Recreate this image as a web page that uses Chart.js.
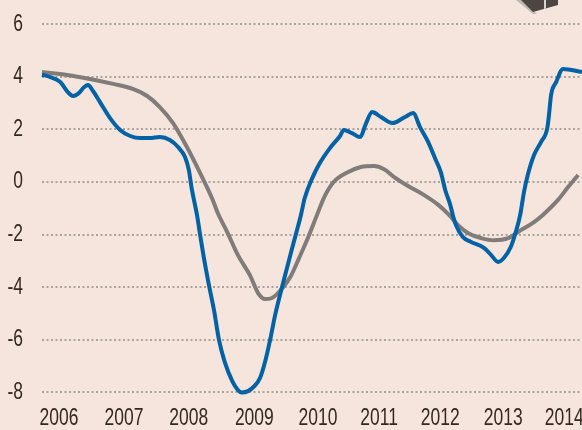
<!DOCTYPE html>
<html>
<head>
<meta charset="utf-8">
<style>
  html, body { margin: 0; padding: 0; background: #f5e5dc; overflow: hidden; }
  #wrap { position: relative; width: 582px; height: 430px; }
  #corner { position: absolute; left: 510px; top: 0; }
</style>
</head>
<body>
<div id="wrap">
  <canvas id="chart" width="582" height="430"></canvas>
  <!-- corner of the illustration that is cut off at the top of the picture -->
  <svg id="corner" width="60" height="18">
    <polygon points="6,0 23,14 27,14 12,0" fill="#bdbab6"/>
    <polygon points="11,0 23,12 48,5 48,0" fill="#4d4640"/>
    <polygon points="34,0 34,9 36,8.5 36,0" fill="#d8d4cf"/>
  </svg>
</div>
<script src="https://cdn.jsdelivr.net/npm/chart.js@4"></script>
<script>
// Year labels sit at uneven spots along the axis, same as the original
const xTickValues = [2006.27, 2007.30, 2008.33, 2009.37, 2010.38, 2011.35, 2012.32, 2013.32, 2014.29];
const xTickLabels = ['2006', '2007', '2008', '2009', '2010', '2011', '2012', '2013', '2014'];
const yTickValues = [-8, -6, -4, -2, 0, 2, 4, 6];

const blueX = [
    2006.00, 2006.13, 2006.29, 2006.41, 2006.49, 2006.57, 2006.67, 2006.73, 2006.81, 2006.92,
    2007.08, 2007.24, 2007.40, 2007.56, 2007.71, 2007.87, 2008.03, 2008.16, 2008.27, 2008.33,
    2008.38, 2008.46, 2008.51, 2008.57, 2008.65, 2008.73, 2008.81, 2008.90, 2009.02, 2009.11,
    2009.17, 2009.27, 2009.37, 2009.46, 2009.54, 2009.62, 2009.70, 2009.81, 2009.95, 2010.03,
    2010.11, 2010.17, 2010.29, 2010.41, 2010.57, 2010.73, 2010.79, 2010.92, 2011.05, 2011.14,
    2011.24, 2011.38, 2011.56, 2011.76, 2011.89, 2012.00, 2012.13, 2012.25, 2012.33, 2012.40,
    2012.48, 2012.52, 2012.57, 2012.68, 2012.81, 2013.02, 2013.13, 2013.24, 2013.33, 2013.44,
    2013.52, 2013.59, 2013.65, 2013.71, 2013.81, 2013.92, 2014.02, 2014.05, 2014.08, 2014.16,
    2014.27, 2014.57
];
const blueY = [
    4.08, 3.99, 3.80, 3.42, 3.27, 3.35, 3.61, 3.69, 3.46, 3.04,
    2.43, 1.98, 1.75, 1.67, 1.67, 1.71, 1.60, 1.33, 0.95, 0.46,
    -0.30, -1.25, -2.02, -2.89, -3.92, -4.87, -6.01, -6.84, -7.57, -7.91,
    -8.00, -7.95, -7.76, -7.45, -6.84, -6.01, -5.06, -3.99, -2.70, -1.98,
    -1.25, -0.61, 0.15, 0.72, 1.29, 1.75, 1.98, 1.86, 1.71, 2.21,
    2.66, 2.47, 2.24, 2.47, 2.62, 2.09, 1.52, 0.84, 0.38, -0.30,
    -0.87, -1.25, -1.63, -2.09, -2.28, -2.51, -2.78, -3.04, -2.89, -2.47,
    -1.90, -1.25, -0.38, 0.27, 1.03, 1.52, 2.05, 2.62, 3.31, 3.80,
    4.30, 4.18
];

const greyX = [
    2006.00, 2006.40, 2006.76, 2007.13, 2007.44, 2007.67, 2007.87, 2008.08, 2008.30, 2008.51,
    2008.71, 2008.79, 2008.94, 2009.11, 2009.30, 2009.43, 2009.54, 2009.65, 2009.83, 2009.95,
    2010.08, 2010.22, 2010.37, 2010.48, 2010.63, 2010.86, 2011.06, 2011.27, 2011.43, 2011.59,
    2011.81, 2012.06, 2012.29, 2012.46, 2012.60, 2012.76, 2012.97, 2013.17, 2013.40, 2013.60,
    2013.81, 2013.95, 2014.19, 2014.35, 2014.51
];
const greyY = [
    4.18, 4.07, 3.92, 3.73, 3.54, 3.27, 2.85, 2.24, 1.33, 0.34,
    -0.68, -1.18, -1.90, -2.78, -3.54, -4.22, -4.45, -4.41, -3.99, -3.57,
    -2.89, -2.13, -1.22, -0.57, 0, 0.38, 0.57, 0.61, 0.49, 0.19,
    -0.15, -0.49, -0.87, -1.25, -1.63, -1.94, -2.13, -2.21, -2.13, -1.83,
    -1.52, -1.25, -0.68, -0.19, 0.27
];

const labelColor = '#35281f';

function toPoints(xs, ys) {
    return xs.map((x, i) => ({ x: x, y: ys[i] }));
}

// No condensed face is installed, so squeeze the tick text sideways by hand
const SQUEEZE = 0.76;

function squeezedText(ctx, text, x, y) {
    ctx.save();
    ctx.translate(x, y);
    ctx.scale(SQUEEZE, 1);
    ctx.fillText(text, 0, 0);
    ctx.restore();
}

const condensedLabels = {
    id: 'condensedLabels',
    afterDraw(chart) {
        const ctx = chart.ctx;
        const { x: xScale, y: yScale } = chart.scales;
        ctx.save();
        ctx.font = '23px "Liberation Sans", sans-serif';
        ctx.fillStyle = labelColor;
        ctx.textBaseline = 'middle';

        ctx.textAlign = 'center';
        xTickValues.forEach((v, i) => {
            squeezedText(ctx, xTickLabels[i], xScale.getPixelForValue(v), 419);
        });

        ctx.textAlign = 'right';
        yTickValues.forEach(v => {
            squeezedText(ctx, String(v), 23, yScale.getPixelForValue(v));
        });
        ctx.restore();
    }
};

new Chart(document.getElementById('chart'), {
    type: 'line',
    data: {
        datasets: [
            {
                data: toPoints(blueX, blueY),
                borderColor: '#0062a6',
                borderWidth: 4,
                pointRadius: 0,
                cubicInterpolationMode: 'monotone',
                clip: false
            },
            {
                data: toPoints(greyX, greyY),
                borderColor: '#807c79',
                borderWidth: 4,
                pointRadius: 0,
                cubicInterpolationMode: 'monotone',
                clip: false
            }
        ]
    },
    options: {
        responsive: false,
        animation: false,
        layout: { padding: 0 },
        plugins: {
            legend: { display: false },
            tooltip: { enabled: false }
        },
        scales: {
            x: {
                type: 'linear',
                min: 2006,
                max: 2014.571,
                border: { display: false },
                grid: { display: false },
                afterFit(axis) { axis.height = 27; },
                ticks: { display: false }
            },
            y: {
                min: -8.4,
                max: 6.92,
                border: { display: false, dash: [2, 2.5] },
                grid: {
                    color: '#aaa49d',
                    lineWidth: 2,
                    drawTicks: false
                },
                afterBuildTicks(axis) {
                    axis.ticks = yTickValues.map(v => ({ value: v }));
                },
                afterFit(axis) { axis.width = 42; },
                ticks: { display: false }
            }
        }
    },
    plugins: [condensedLabels]
});
</script>
</body>
</html>
